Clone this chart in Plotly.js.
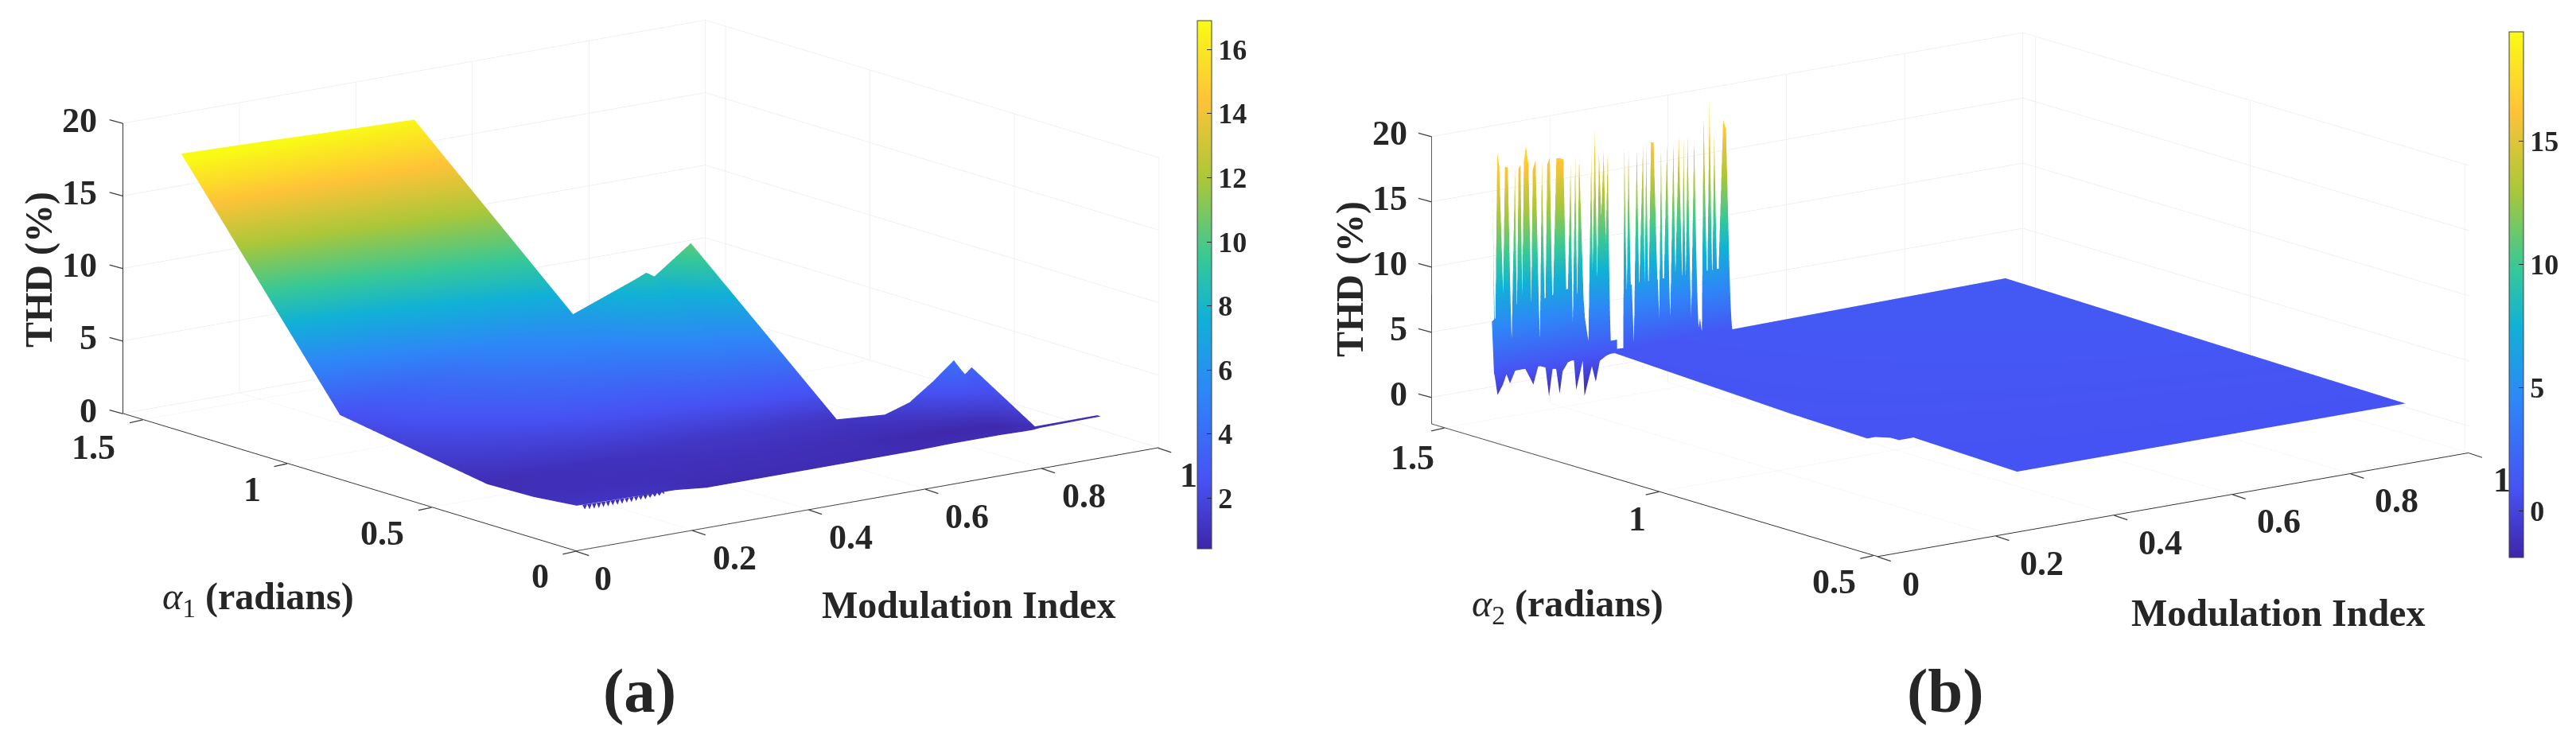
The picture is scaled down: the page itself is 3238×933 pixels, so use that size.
<!DOCTYPE html>
<html><head><meta charset="utf-8">
<script src="https://cdn.plot.ly/plotly-3.0.1.min.js"></script>
<style>html,body{margin:0;padding:0;background:#fff}#g{width:3238px;height:933px}</style></head>
<body><div id="g"></div>
<script>
const parula=[[0,'#3e26a8'],[0.13,'#4752f4'],[0.3,'#2e87f7'],[0.44,'#11b1d6'],[0.55,'#37c897'],[0.7,'#abc739'],[0.85,'#fec338'],[1,'#f9fb15']];
// Panel (a): rows run from the low-alpha edge to the boundary of the surface
const modA=[0.1,0.27,0.33,0.5,0.5001,0.595,0.616,0.63,0.69,0.6901,0.75,0.79,0.83,0.87,0.885,0.895,0.8951,1.0];
const alphaA=[
[0.2,0.2,0.216,0.21,0.21,0.21,0.21,0.21,0.21,0.21,0.21,0.21,0.21,0.2,0.2,0.2,0.2,0.2],
[0.35,0.35,0.35,0.35,0.35,0.35,0.35,0.35,0.33,0.33,0.33,0.33,0.32,0.3,0.25,0.217,0.217,0.213],
[0.51,0.51,0.51,0.51,0.51,0.5,0.5,0.5,0.49,0.49,0.444,0.44,0.44,0.447,0.44,0.436,0.217,0.213],
[1.02,1.02,1.02,1.02,1.02,1.0,1.0,1.0,0.995,0.49,0.444,0.44,0.44,0.447,0.44,0.436,0.217,0.213],
[1.57,1.57,1.57,1.57,1.02,1.0,1.0,1.0,0.995,0.49,0.444,0.44,0.44,0.447,0.44,0.436,0.217,0.213]];
const thdA=[
[1.2,1.07,0.7,0.75,0.75,0.75,0.75,0.75,0.75,0.75,0.8,0.8,0.8,0.85,0.85,0.9,0.9,0.95],
[0.9,0.9,0.9,0.9,0.9,0.85,0.85,0.85,0.7,0.7,0.6,0.55,0.55,0.6,0.8,0.9,0.9,0.95],
[0.81,1.0,1.1,1.3,1.3,1.3,1.3,1.3,1.2,1.2,1.38,1.95,3.1,4.25,3.2,3.66,0.9,0.95],
[2.5,4.2,5.0,6.6,6.6,8.4,8.76,8.4,10.3,1.2,1.38,1.95,3.1,4.25,3.2,3.66,0.9,0.95],
[17.2,17.0,16.9,16.7,6.6,8.4,8.76,8.4,10.3,1.2,1.38,1.95,3.1,4.25,3.2,3.66,0.9,0.95]];
const fringeMod=[0.11,0.114,0.118,0.122,0.126,0.13,0.134,0.138,0.142,0.146,0.15,0.154,0.158,0.162,0.166,0.17,0.174,0.178,0.182,0.186,0.19,0.194,0.198,0.202,0.206,0.21,0.214,0.218,0.222,0.226,0.23,0.234,0.238,0.242,0.246,0.25];
const fringeThd=[1.15,0.85,1.16,0.8,1.15,0.78,1.15,0.76,1.14,0.78,1.14,0.76,1.14,0.78,1.13,0.76,1.13,0.78,1.13,0.8,1.12,0.78,1.12,0.8,1.11,0.82,1.11,0.8,1.1,0.84,1.1,0.86,1.09,0.88,1.09,0.92];
const fringeTop=[1.18,1.18,1.17,1.17,1.16,1.16,1.15,1.15,1.15,1.15,1.14,1.14,1.14,1.14,1.13,1.13,1.13,1.13,1.12,1.12,1.12,1.12,1.11,1.11,1.11,1.11,1.11,1.11,1.1,1.1,1.1,1.1,1.09,1.09,1.09,1.09];
// Panel (b)
const planeModEdge=[0.31,0.32,0.322,0.31,0.295,0.294,0.277,0.2666,0.272,0.3];
const planeModFar=[0.967,0.967,0.967,0.967,0.967,0.967,0.967,0.967,0.967,0.967];
const planeAlpha=[0.5925,0.845,0.862,0.859,0.847,0.865,0.886,0.882,1.069,1.525];
const planeThdEdge=[1.0,1.04,1.05,1.05,1.05,1.06,1.06,1.06,1.1,1.14];
const planeThdFar=[1.0,1.12,1.13,1.13,1.12,1.13,1.14,1.14,1.24,1.48];
const spikeMod=[0.103,0.107,0.111,0.1145,0.121,0.124,0.129,0.135,0.141,0.144,0.147,0.1505,0.153,0.156,0.1595,0.164,0.1685,0.171,0.176,0.183,0.1865,0.192,0.1955,0.2,0.2045,0.211,0.218,0.223,0.229,0.235,0.238,0.243,0.246,0.2495,0.258,0.265,0.27,0.272,0.276,0.28,0.283,0.287,0.291,0.2945,0.298,0.301,0.324,0.326,0.33,0.333,0.337,0.342,0.347,0.351,0.3575,0.36,0.363,0.3665,0.371,0.3755,0.3845,0.388,0.391,0.398,0.403,0.409,0.412,0.418,0.424,0.426,0.4295,0.433,0.4385,0.444,0.45,0.454,0.457,0.46,0.466,0.47,0.4745,0.478,0.4835,0.493,0.498,0.506];
const spikeThd=[16.4,1.16,17.9,16.8,7.05,16.7,16.6,2.45,16.5,3.88,16.4,16.6,5.2,16.8,18.05,16.5,5.7,16.1,16.8,2,16.75,3.5,16.3,16.8,4.4,16.65,16.6,16.46,3.2,15.97,1.44,16.6,4.08,16.65,3.99,1.53,16.6,6.68,18.45,6.62,16.59,11.76,16.63,9.7,16.68,1.25,1.18,16.76,4.43,16.7,4.37,1.24,16.6,5.27,16.61,3.99,16.47,3.74,16.61,16.57,1.3,16.38,1.95,16.3,1.26,16.61,5.59,16.74,5.3,16.58,4.65,16.73,1.18,16.54,1.3,2.46,1.24,18.42,3.97,19.24,3.9,16.48,3.23,17.36,16.62,1.26];
const bodyMod=[0.102,0.1316,0.1334,0.1393,0.1415,0.1803,0.183,0.1852,0.2306,0.2324,0.2396,0.2414,0.2563,0.2594,0.2675,0.2688,0.299,0.301,0.324,0.3251,0.3386,0.3404,0.3454,0.3468,0.3827,0.3845,0.3868,0.4003,0.4025,0.407,0.4084,0.4363,0.4385,0.4408,0.4421,0.4475,0.4498,0.4588,0.4597,0.497,0.504];
const bodyThd=[5,6,2.4,2.4,6,6,2,6,6.5,1.4,1.4,6,6,4,1.5,6,6.5,1.25,1.2,5.5,6,1.3,1.3,6,6,1.3,6,6,1.3,1.3,6,6,1.2,1.2,6,6,1.3,1.3,6,6,1.3];
const jagMod=[0.102,0.108,0.117,0.123,0.129,0.139,0.155,0.164,0.1685,0.172,0.177,0.189,0.195,0.201,0.207,0.213,0.218,0.227,0.237,0.241,0.252,0.255,0.2675,0.274,0.281,0.292,0.31];
const jagThd=[1.2,-0.64,0.09,0.84,0.09,1.11,0.99,0.12,-0.32,0.26,1.06,0.83,-1.42,0.63,0.58,-1.36,0.3,0.93,1.05,-1.28,0.84,-1.88,0.31,-0.94,0.61,0.92,1.14];
const xTicks=[0,0.2,0.4,0.6,0.8,1];
const xLabels=['0','0.2','0.4','0.6','0.8','1'];
const yTicksA=[0,0.5,1,1.5];
const yLabelsA=['0','0.5','1','1.5'];
const yTicksB=[0.5,1,1.5];
const yLabelsB=['0.5','1','1.5'];
const zTicks=[0,5,10,15,20];
const zLabels=['0','5','10','15','20'];

const D=5;
const cameraA={projection:{type:'orthographic'},up:{x:0,y:0,z:1},center:{x:0,y:0,z:0},eye:{x:-0.591*D,y:-0.773*D,z:0.232*D}};
const cameraB={projection:{type:'orthographic'},up:{x:0,y:0,z:1},center:{x:0,y:0,z:0},eye:{x:-0.593*D,y:-0.772*D,z:0.2285*D}};
const serif='"Liberation Serif","Times New Roman",serif';
function ax(range,tickvals){return {range,tickvals,autorange:false,showbackground:false,showgrid:true,gridcolor:'#e4e4e4',gridwidth:1,zeroline:false,showline:true,linecolor:'#333333',linewidth:2,ticks:'',showticklabels:false,title:{text:''},showspikes:false};}
const tickFont={family:serif,size:44,color:'#262626',weight:'bold'};
const lab=(x,y,z,text,xshift,yshift,xanchor)=>({x,y,z,text,showarrow:false,xshift,yshift:-yshift,xanchor:xanchor||'center',yanchor:'middle',font:tickFont});
const tick=(x,y,z,dx,dy)=>({x,y,z,text:'',showarrow:true,arrowhead:0,arrowwidth:1.3,arrowcolor:'#404040',standoff:0,ax:dx,ay:dy});
function sceneOf(domain,cam,asp,xa,ya,za,annotations){return {domain,camera:cam,aspectmode:'manual',aspectratio:asp,xaxis:xa,yaxis:ya,zaxis:za,bgcolor:'#fff',annotations};}
const flat={ambient:1,diffuse:0,specular:0,roughness:1,fresnel:0};
function surf(scene,x,y,z,cmin,cmax,cb){
  const t={type:'surface',scene,x,y,z,cmin,cmax,cauto:false,colorscale:parula,lighting:flat,hoverinfo:'skip',showscale:!!cb,contours:{x:{highlight:false},y:{highlight:false},z:{highlight:false}}};
  if(cb)t.colorbar=cb; return t;
}
const row=(v,n)=>Array(n).fill(v);
function cbar(x,y0,y1,tickvals){return {x,xanchor:'left',y:y1,yanchor:'top',len:y1-y0,lenmode:'fraction',thickness:18,thicknessmode:'pixels',outlinecolor:'#404040',outlinewidth:1,ticks:'inside',ticklen:6,tickcolor:'#262626',tickvals,ticktext:tickvals.map(String),tickfont:{family:serif,size:36,color:'#262626',weight:'bold'},xpad:0,ypad:0};}
const W=3238,H=933;
const planeX=planeModEdge.map((v,i)=>[v,planeModFar[i]]);
const planeY=planeAlpha.map(v=>[v,v]);
const planeZ=planeThdEdge.map((v,i)=>[v,planeThdFar[i]]);
const data=[
 surf('scene',alphaA.map(()=>modA),alphaA,thdA,0.42,16.9,cbar(1505/W,1-690/H,1-26/H,[2,4,6,8,10,12,14,16])),
 surf('scene',[fringeMod,fringeMod],[fringeMod.map(()=>0.2),fringeMod.map(()=>0.2)],[fringeThd,fringeTop],0.42,16.9),
 surf('scene2',planeX,planeY,planeZ,-1.88,19.43,cbar(3154/W,1-701/H,1-40/H,[0,5,10,15])),
 surf('scene2',[spikeMod,spikeMod],[row(1.525,spikeMod.length),row(1.53,spikeMod.length)],[row(1.0,spikeMod.length),spikeThd],-1.88,19.43),
 surf('scene2',[bodyMod,bodyMod],[row(1.525,bodyMod.length),row(1.53,bodyMod.length)],[row(1.0,bodyMod.length),bodyThd],-1.88,19.43),
 surf('scene2',[jagMod,jagMod],[row(1.525,jagMod.length),row(1.525,jagMod.length)],[jagThd,row(2,jagMod.length)],-1.88,19.43)
];
const annA=[
 ...xTicks.map(v=>tick(v,0,0,18,6)),
 ...yTicksA.map(v=>tick(0,v,0,-18,4)),
 ...zTicks.map(v=>tick(0,1.57,v,-18,-5)),
 ...xTicks.map((v,i)=>lab(v,0,0,xLabels[i],i==0?34:i==5?38:53,34)),
 ...yTicksA.map((v,i)=>lab(0,v,0,yLabelsA[i],[-45,-62,-44,-62][i],[31,32,33,35][i])),
 ...zTicks.map((v,i)=>lab(0,1.57,v,zLabels[i],-30,-4,'right'))];
const annB=[
 ...xTicks.map(v=>tick(v,0.49,-2.04,18,6)),
 ...yTicksB.map(v=>tick(0,v,-2.04,-18,4)),
 ...zTicks.map(v=>tick(0,1.53,v,-18,-5)),
 ...xTicks.map((v,i)=>lab(v,0.49,-2.04,xLabels[i],i==0?42:i==5?41:58,34)),
 ...yTicksB.map((v,i)=>lab(0,v,-2.04,yLabelsB[i],[-49,-27,-40][i],[33,34,37][i])),
 ...zTicks.map((v,i)=>lab(0,1.53,v,zLabels[i],-28,-4,'right'))];
const txt=(x,y,text,size,extra)=>Object.assign({xref:'paper',yref:'paper',x:x/W,y:1-y/H,text,showarrow:false,font:{family:serif,size,color:'#262626'},xanchor:'center',yanchor:'middle'},extra||{});
const S=2.567;
const layout={width:W,height:H,margin:{l:0,r:0,t:0,b:0},paper_bgcolor:'#fff',showlegend:false,
 scene:sceneOf({x:[0.0036,0.4936],y:[0.23,1]},cameraA,{x:S,y:1.018*S,z:0.407*S},ax([0,1],xTicks),ax([0,1.57],yTicksA),ax([0,20],zTicks),annA),
 scene2:sceneOf({x:[0.5142,1.0],y:[0.215,0.99]},cameraB,{x:S*1.01,y:0.992*S,z:0.4*S},ax([0,1],xTicks),ax([0.49,1.53],yTicksB),ax([-2.04,20],zTicks),annB),
 annotations:[
  txt(49,339,'<b>THD (%)</b>',48,{textangle:-90}),
  txt(324,753,'<i>α</i><sub>1</sub> <b>(radians)</b>',48),
  txt(1217,760,'<b>Modulation Index</b>',48),
  txt(804,868,'<b>(a)</b>',79),
  txt(1697,351,'<b>THD (%)</b>',48,{textangle:-90}),
  txt(1971,762,'<i>α</i><sub>2</sub> <b>(radians)</b>',48),
  txt(2863,770,'<b>Modulation Index</b>',48),
  txt(2445,868,'<b>(b)</b>',79)
 ]};
Plotly.newPlot('g',data,layout,{displayModeBar:false});
</script></body></html>
